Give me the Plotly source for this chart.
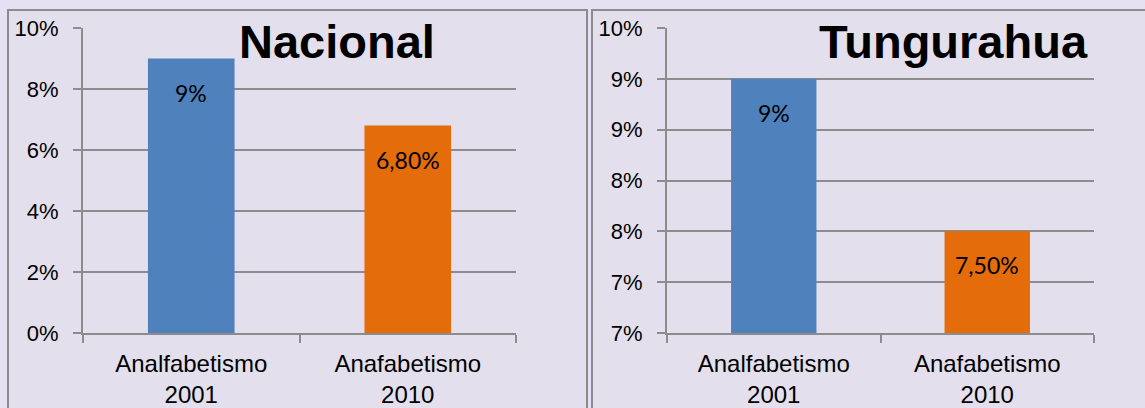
import plotly.graph_objects as go

# ---- data ----
categories = ["Analfabetismo<br>2001", "Anafabetismo<br>2010"]
nacional_values = [0.09, 0.068]
nacional_labels = ["9%", "6,80%"]
tung_values = [0.09, 0.075]
tung_labels = ["9%", "7,50%"]
nacional_ticks = [0, 0.02, 0.04, 0.06, 0.08, 0.10]
nacional_ticktext = ["0%", "2%", "4%", "6%", "8%", "10%"]
tung_ticks = [0.065, 0.070, 0.075, 0.080, 0.085, 0.090, 0.095]
tung_ticktext = ["7%", "7%", "8%", "8%", "9%", "9%", "10%"]
bar_colors = ["#4F81BD", "#E46C0A"]

W, H = 1145, 408
def px(x):
    return x / W
def py(y):
    return 1 - y / H

grid = "#8C8C8C"
fig = go.Figure()
fig.add_trace(go.Bar(x=categories, y=nacional_values, marker_color=bar_colors,
                     marker_line_width=0, xaxis="x", yaxis="y", hoverinfo="skip"))
fig.add_trace(go.Bar(x=categories, y=tung_values, marker_color=bar_colors,
                     marker_line_width=0, xaxis="x2", yaxis="y2", hoverinfo="skip"))

annotations = []
for xa, ya, vals, labs in [("x", "y", nacional_values, nacional_labels),
                           ("x2", "y2", tung_values, tung_labels)]:
    for c, v, t in zip(categories, vals, labs):
        annotations.append(dict(x=c, y=v, xref=xa, yref=ya, text=t, showarrow=False,
                                yanchor="middle", yshift=-34,
                                font=dict(family="Lato", size=23, color="#000000")))

title_font = dict(family="Liberation Sans", size=47, color="#000000")
annotations.append(dict(x=px(437), y=py(42), xref="paper", yref="paper", text="<b>Nacional</b>",
                        showarrow=False, xanchor="right", yanchor="middle", font=title_font))
annotations.append(dict(x=px(1090), y=py(42), xref="paper", yref="paper", text="<b>Tungurahua</b>",
                        showarrow=False, xanchor="right", yanchor="middle", font=title_font))

panel_fill = "#E4DFEC"
shapes = [
    dict(type="rect", xref="paper", yref="paper", x0=px(8), x1=px(587), y0=-0.2, y1=py(10),
         fillcolor=panel_fill, line=dict(color=grid, width=2), layer="below"),
    dict(type="rect", xref="paper", yref="paper", x0=px(592), x1=1.2, y0=-0.2, y1=py(10),
         fillcolor=panel_fill, line=dict(color=grid, width=2), layer="below"),
]

axis_common = dict(showline=True, linecolor=grid, linewidth=2, ticks="outside",
                   tickcolor=grid, tickwidth=2, ticklen=8, automargin=False)
tickfont = dict(family="Liberation Sans", size=22, color="#000000")
catfont = dict(family="Liberation Sans", size=24, color="#000000")

y0, y1 = py(333), py(28)
fig.update_layout(
    width=W, height=H, margin=dict(l=0, r=0, t=0, b=0, pad=0), autosize=False,
    paper_bgcolor="#E6E0F3", plot_bgcolor="#FFFFFF",
    showlegend=False, bargap=0.6,
    xaxis=dict(domain=[px(83), px(516)], anchor="y", tickson="boundaries",
               tickfont=catfont, ticklabelstandoff=8, fixedrange=True, **axis_common),
    yaxis=dict(domain=[y0, y1], anchor="x", range=[0, 0.10], tickvals=nacional_ticks,
               ticktext=nacional_ticktext, showgrid=True, gridcolor=grid, gridwidth=2,
               tickfont=tickfont, ticklabelstandoff=10, zeroline=False, fixedrange=True,
               **axis_common),
    xaxis2=dict(domain=[px(667), px(1094)], anchor="y2", tickson="boundaries",
                tickfont=catfont, ticklabelstandoff=8, fixedrange=True, **axis_common),
    yaxis2=dict(domain=[y0, y1], anchor="x2", range=[0.065, 0.095], tickvals=tung_ticks,
                ticktext=tung_ticktext, showgrid=True, gridcolor=grid, gridwidth=2,
                tickfont=tickfont, ticklabelstandoff=10, zeroline=False, fixedrange=True,
                **axis_common),
    annotations=annotations, shapes=shapes,
)

fig.write_html("out.html", config={"displayModeBar": False, "staticPlot": True},
               post_script="document.body.style.margin='0';document.body.style.padding='0';"
                           "document.body.style.background='#E6E0F3';")
